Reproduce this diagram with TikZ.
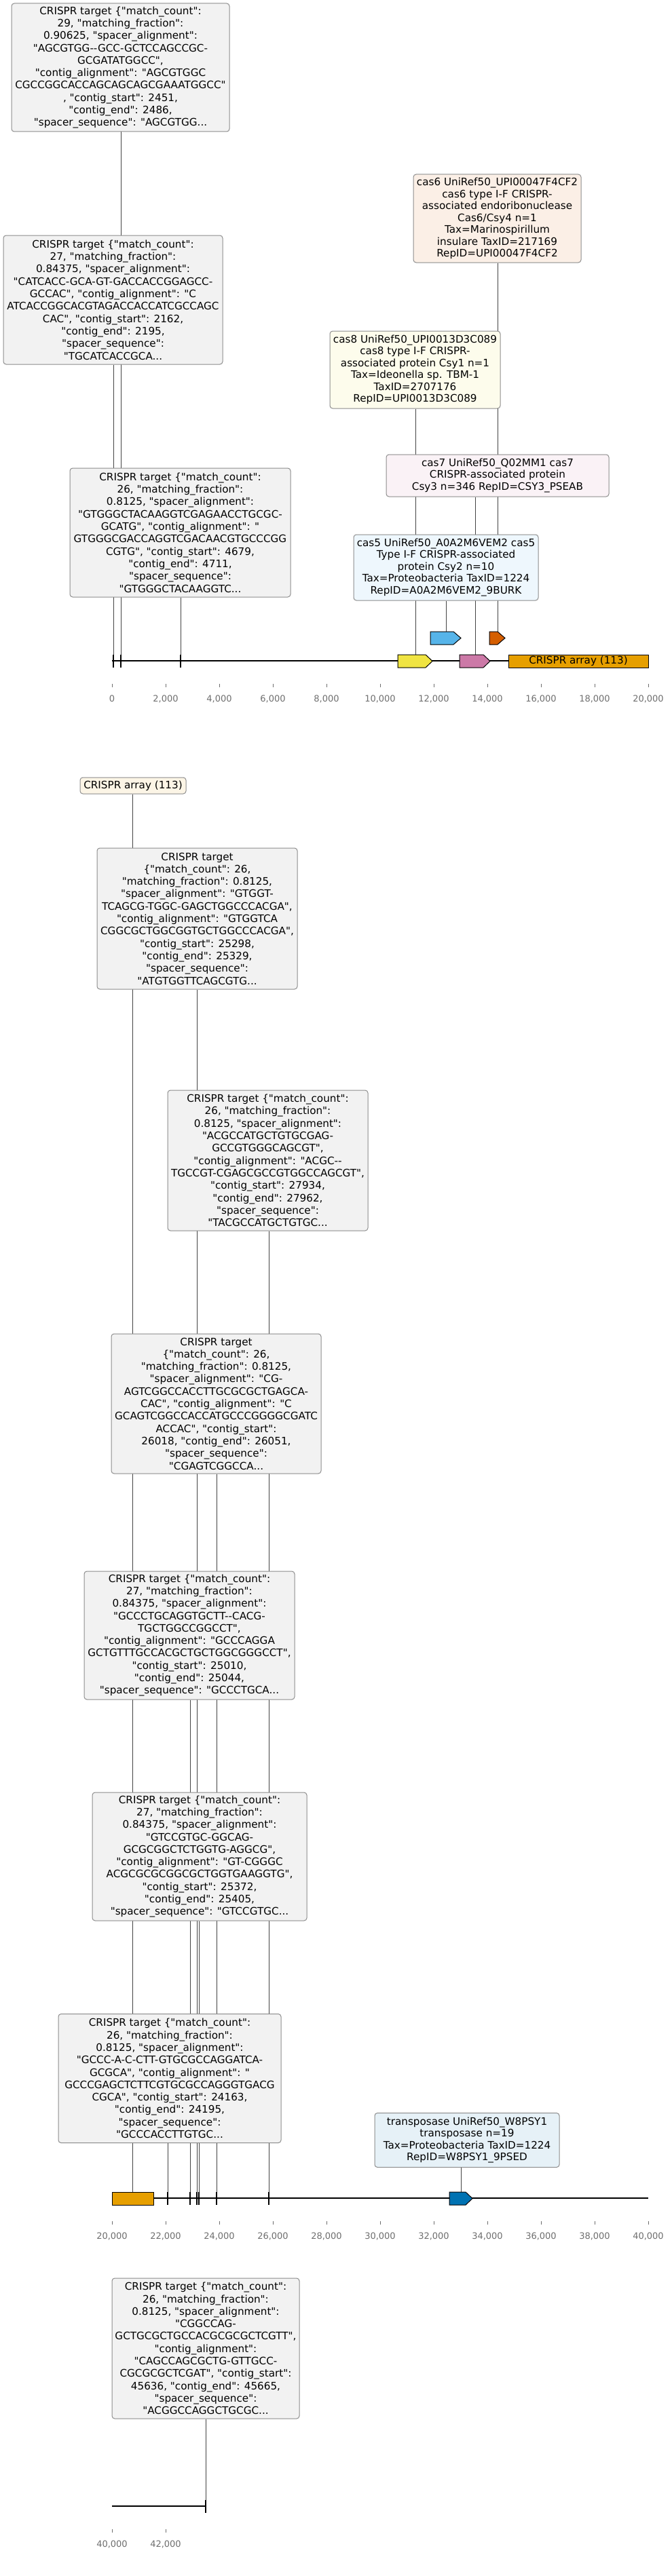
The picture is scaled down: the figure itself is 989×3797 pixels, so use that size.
\documentclass[tikz,border=0pt]{standalone}
\usepackage{fontspec}
\newfontfamily\dv{DejaVu Sans}
\usetikzlibrary{backgrounds}
\definecolor{tgtfill}{HTML}{F2F2F2}
\definecolor{bordgray}{HTML}{8C8C8C}
\definecolor{conngray}{HTML}{444444}
\definecolor{axgray}{HTML}{6E6E6E}
\definecolor{cYellow}{HTML}{F0E442}
\definecolor{cPink}{HTML}{CC79A7}
\definecolor{cBlue}{HTML}{56B4E9}
\definecolor{cOrange}{HTML}{D55E00}
\definecolor{cArray}{HTML}{E69F00}
\definecolor{cDark}{HTML}{0072B2}
\definecolor{fOrange}{HTML}{FBEFE6}
\definecolor{fYellow}{HTML}{FDFCEC}
\definecolor{fPink}{HTML}{FAF2F6}
\definecolor{fBlue}{HTML}{EEF7FD}
\definecolor{fArray}{HTML}{FCF5E6}
\definecolor{fDark}{HTML}{E6F1F7}
\begin{document}
\begin{tikzpicture}[x=1pt,y=-1pt,
  tgt/.style={draw=bordgray, fill=tgtfill, rounded corners=4pt, line width=1pt, inner sep=0pt, align=center, font=\dv\fontsize{15.2}{18.3}\selectfont},
  caslbl/.style={draw=bordgray, rounded corners=4pt, line width=1pt, inner sep=0pt, align=center, font=\dv\fontsize{15.2}{17.5}\selectfont},
  conn/.style={draw=conngray, line width=0.9pt},
  genebox/.style={draw=black, line width=1pt},
  backbone/.style={draw=black, line width=2.6pt},
  tgttick/.style={draw=black, line width=1.4pt},
  axlbl/.style={text=axgray, font=\dv\fontsize{13}{15}\selectfont, inner sep=0pt},
  axtick/.style={draw=axgray, line width=0.8pt}]
\useasboundingbox (0,0) rectangle (989,3797);

% ---------------- Track 1 labels ----------------
\node[tgt, minimum width=321, minimum height=189] (B1) at (177.5,99.5) {CRISPR target \{"match\_count":\\29, "matching\_fraction":\\0.90625, "spacer\_alignment":\\"AGCGTGG--GCC-GCTCCAGCCGC-\\GCGATATGGCC",\\"contig\_alignment": "AGCGTGGC\\CGCCGGCACCAGCAGCAGCGAAATGGCC"\\, "contig\_start": 2451,\\"contig\_end": 2486,\\"spacer\_sequence": "AGCGTGG...};
\node[tgt, minimum width=323, minimum height=190] (B2) at (166.5,442) {CRISPR target \{"match\_count":\\27, "matching\_fraction":\\0.84375, "spacer\_alignment":\\"CATCACC-GCA-GT-GACCACCGGAGCC-\\GCCAC", "contig\_alignment": "C\\ATCACCGGCACGTAGACCACCATCGCCAGC\\CAC", "contig\_start": 2162,\\"contig\_end": 2195,\\"spacer\_sequence":\\"TGCATCACCGCA...};
\node[tgt, minimum width=325, minimum height=190] (B3) at (265.5,785) {CRISPR target \{"match\_count":\\26, "matching\_fraction":\\0.8125, "spacer\_alignment":\\"GTGGGCTACAAGGTCGAGAACCTGCGC-\\GCATG", "contig\_alignment": "\\GTGGGCGACCAGGTCGACAACGTGCCCGG\\CGTG", "contig\_start": 4679,\\"contig\_end": 4711,\\"spacer\_sequence":\\"GTGGGCTACAAGGTC...};

\node[caslbl, fill=fOrange, minimum width=247, minimum height=130] (cas6) at (732.5,322) {cas6 UniRef50\_UPI00047F4CF2\\cas6 type I-F CRISPR-\\associated endoribonuclease\\Cas6/Csy4 n=1\\Tax=Marinospirillum\\insulare TaxID=217169\\RepID=UPI00047F4CF2};
\node[caslbl, fill=fYellow, minimum width=251, minimum height=114] (cas8) at (611.5,545) {cas8 UniRef50\_UPI0013D3C089\\cas8 type I-F CRISPR-\\associated protein Csy1 n=1\\Tax=Ideonella sp. TBM-1\\TaxID=2707176\\RepID=UPI0013D3C089};
\node[caslbl, fill=fPink, minimum width=328, minimum height=62] (cas7) at (733,701) {cas7 UniRef50\_Q02MM1 cas7\\CRISPR-associated protein\\Csy3 n=346 RepID=CSY3\_PSEAB};
\node[caslbl, fill=fBlue, minimum width=272, minimum height=97] (cas5) at (657,836.5) {cas5 UniRef50\_A0A2M6VEM2 cas5\\Type I-F CRISPR-associated\\protein Csy2 n=10\\Tax=Proteobacteria TaxID=1224\\RepID=A0A2M6VEM2\_9BURK};

% ---------------- Track 1 features ----------------
\draw[backbone] (165,974) -- (955,974);
\coordinate (t1) at (178,965);
\coordinate (t2) at (167,965);
\coordinate (t3) at (266,965);
\foreach \c in {t1,t2,t3} \draw[tgttick] (\c) -- ++(0,19);
\draw[genebox, fill=cYellow] (586,965) -- (627,965) -- (637,974.5) -- (627,984) -- (586,984) -- cycle;
\draw[genebox, fill=cPink] (677,965) -- (712,965) -- (722,974.5) -- (712,984) -- (677,984) -- cycle;
\draw[genebox, fill=cBlue] (634,931) -- (668,931) -- (679,940.5) -- (668,950) -- (634,950) -- cycle;
\draw[genebox, fill=cOrange] (721,931) -- (733,931) -- (744,940.5) -- (733,950) -- (721,950) -- cycle;
\node[genebox, fill=cArray, minimum width=206, minimum height=19, inner sep=0pt, font=\dv\fontsize{15.2}{18}\selectfont] (arr1) at (852,974.5) {CRISPR array (113)};
\coordinate (gY) at (612,965);
\coordinate (gP) at (700,965);
\coordinate (gB) at (657,931);
\coordinate (gO) at (733,931);

% axis 1
\foreach \k/\lab in {0/0,1/{2,000},2/{4,000},3/{6,000},4/{8,000},5/{10,000},6/{12,000},7/{14,000},8/{16,000},9/{18,000},10/{20,000}} {
  \draw[axtick] (165+79*\k,1008) -- (165+79*\k,1013);
  \node[axlbl] at (165+79*\k,1030) {\lab};
}

% ---------------- Track 2 ----------------
\node[caslbl, fill=fArray, minimum width=156, minimum height=24] (arrlbl) at (196,1158) {CRISPR array (113)};
\node[tgt, minimum width=295, minimum height=208] (B4) at (290.5,1354) {CRISPR target\\\{"match\_count": 26,\\"matching\_fraction": 0.8125,\\"spacer\_alignment": "GTGGT-\\TCAGCG-TGGC-GAGCTGGCCCACGA",\\"contig\_alignment": "GTGGTCA\\CGGCGCTGGCGGTGCTGGCCCACGA",\\"contig\_start": 25298,\\"contig\_end": 25329,\\"spacer\_sequence":\\"ATGTGGTTCAGCGTG...};
\node[tgt, minimum width=295, minimum height=207] (B5) at (394.5,1710.5) {CRISPR target \{"match\_count":\\26, "matching\_fraction":\\0.8125, "spacer\_alignment":\\"ACGCCATGCTGTGCGAG-\\GCCGTGGGCAGCGT",\\"contig\_alignment": "ACGC--\\TGCCGT-CGAGCGCCGTGGCCAGCGT",\\"contig\_start": 27934,\\"contig\_end": 27962,\\"spacer\_sequence":\\"TACGCCATGCTGTGC...};
\node[tgt, minimum width=309, minimum height=206] (B6) at (318.5,2069) {CRISPR target\\\{"match\_count": 26,\\"matching\_fraction": 0.8125,\\"spacer\_alignment": "CG-\\AGTCGGCCACCTTGCGCGCTGAGCA-\\CAC", "contig\_alignment": "C\\GCAGTCGGCCACCATGCCCGGGGCGATC\\ACCAC", "contig\_start":\\26018, "contig\_end": 26051,\\"spacer\_sequence":\\"CGAGTCGGCCA...};
\node[tgt, minimum width=310, minimum height=189] (B7) at (279,2410.5) {CRISPR target \{"match\_count":\\27, "matching\_fraction":\\0.84375, "spacer\_alignment":\\"GCCCTGCAGGTGCTT--CACG-\\TGCTGGCCGGCCT",\\"contig\_alignment": "GCCCAGGA\\GCTGTTTGCCACGCTGCTGGCGGGCCT",\\"contig\_start": 25010,\\"contig\_end": 25044,\\"spacer\_sequence": "GCCCTGCA...};
\node[tgt, minimum width=316, minimum height=189] (B8) at (294,2736.5) {CRISPR target \{"match\_count":\\27, "matching\_fraction":\\0.84375, "spacer\_alignment":\\"GTCCGTGC-GGCAG-\\GCGCGGCTCTGGTG-AGGCG",\\"contig\_alignment": "GT-CGGGC\\ACGCGCGCGGCGCTGGTGAAGGTG",\\"contig\_start": 25372,\\"contig\_end": 25405,\\"spacer\_sequence": "GTCCGTGC...};
\node[tgt, minimum width=328, minimum height=190] (B9) at (250,3063.5) {CRISPR target \{"match\_count":\\26, "matching\_fraction":\\0.8125, "spacer\_alignment":\\"GCCC-A-C-CTT-GTGCGCCAGGATCA-\\GCGCA", "contig\_alignment": "\\GCCCGAGCTCTTCGTGCGCCAGGGTGACG\\CGCA", "contig\_start": 24163,\\"contig\_end": 24195,\\"spacer\_sequence":\\"GCCCACCTTGTGC...};
\node[caslbl, fill=fDark, minimum width=272, minimum height=80] (trp) at (688,3154.5) {transposase UniRef50\_W8PSY1\\transposase n=19\\Tax=Proteobacteria TaxID=1224\\RepID=W8PSY1\_9PSED};

\draw[backbone] (165,3240) -- (955,3240);
\node[genebox, fill=cArray, minimum width=61, minimum height=19, inner sep=0pt] (arr2) at (195.5,3240.5) {};
\coordinate (gA) at (195.5,3231);
\coordinate (t4) at (290,3231);
\coordinate (t5) at (396,3231);
\coordinate (t6) at (319,3231);
\coordinate (t7) at (280,3231);
\coordinate (t8) at (293,3231);
\coordinate (t9) at (247,3231);
\foreach \c in {t4,t5,t6,t7,t8,t9} \draw[tgttick] (\c) -- ++(0,19);
\draw[genebox, fill=cDark] (662,3231) -- (686,3231) -- (696,3240.5) -- (686,3250) -- (662,3250) -- cycle;
\coordinate (gT) at (679,3231);

\foreach \k/\lab in {0/{20,000},1/{22,000},2/{24,000},3/{26,000},4/{28,000},5/{30,000},6/{32,000},7/{34,000},8/{36,000},9/{38,000},10/{40,000}} {
  \draw[axtick] (165+79*\k,3274) -- (165+79*\k,3279);
  \node[axlbl] at (165+79*\k,3296) {\lab};
}

% ---------------- Track 3 ----------------
\node[tgt, minimum width=276, minimum height=207] (B10) at (303,3461.5) {CRISPR target \{"match\_count":\\26, "matching\_fraction":\\0.8125, "spacer\_alignment":\\"CGGCCAG-\\GCTGCGCTGCCACGCGCGCTCGTT",\\"contig\_alignment":\\"CAGCCAGCGCTG-GTTGCC-\\CGCGCGCTCGAT", "contig\_start":\\45636, "contig\_end": 45665,\\"spacer\_sequence":\\"ACGGCCAGGCTGCGC...};
\draw[backbone] (165,3694) -- (303,3694);
\coordinate (t10) at (303,3685);
\draw[tgttick] (t10) -- ++(0,19);
\foreach \k/\lab in {0/{40,000},1/{42,000}} {
  \draw[axtick] (165+79*\k,3728) -- (165+79*\k,3733);
  \node[axlbl] at (165+79*\k,3750) {\lab};
}

% ---------------- connectors ----------------
\begin{pgfonlayer}{background}
\draw[conn] (t1) -- (t1 |- B1.south);
\draw[conn] (t2) -- (t2 |- B2.south);
\draw[conn] (t3) -- (t3 |- B3.south);
\draw[conn] (gO) -- (gO |- cas6.south);
\draw[conn] (gY) -- (gY |- cas8.south);
\draw[conn] (gP) -- (gP |- cas7.south);
\draw[conn] (gB) -- (gB |- cas5.south);
\draw[conn] (gA) -- (gA |- arrlbl.south);
\draw[conn] (t4) -- (t4 |- B4.south);
\draw[conn] (t5) -- (t5 |- B5.south);
\draw[conn] (t6) -- (t6 |- B6.south);
\draw[conn] (t7) -- (t7 |- B7.south);
\draw[conn] (t8) -- (t8 |- B8.south);
\draw[conn] (t9) -- (t9 |- B9.south);
\draw[conn] (gT) -- (gT |- trp.south);
\draw[conn] (t10) -- (t10 |- B10.south);
\end{pgfonlayer}
\end{tikzpicture}
\end{document}
